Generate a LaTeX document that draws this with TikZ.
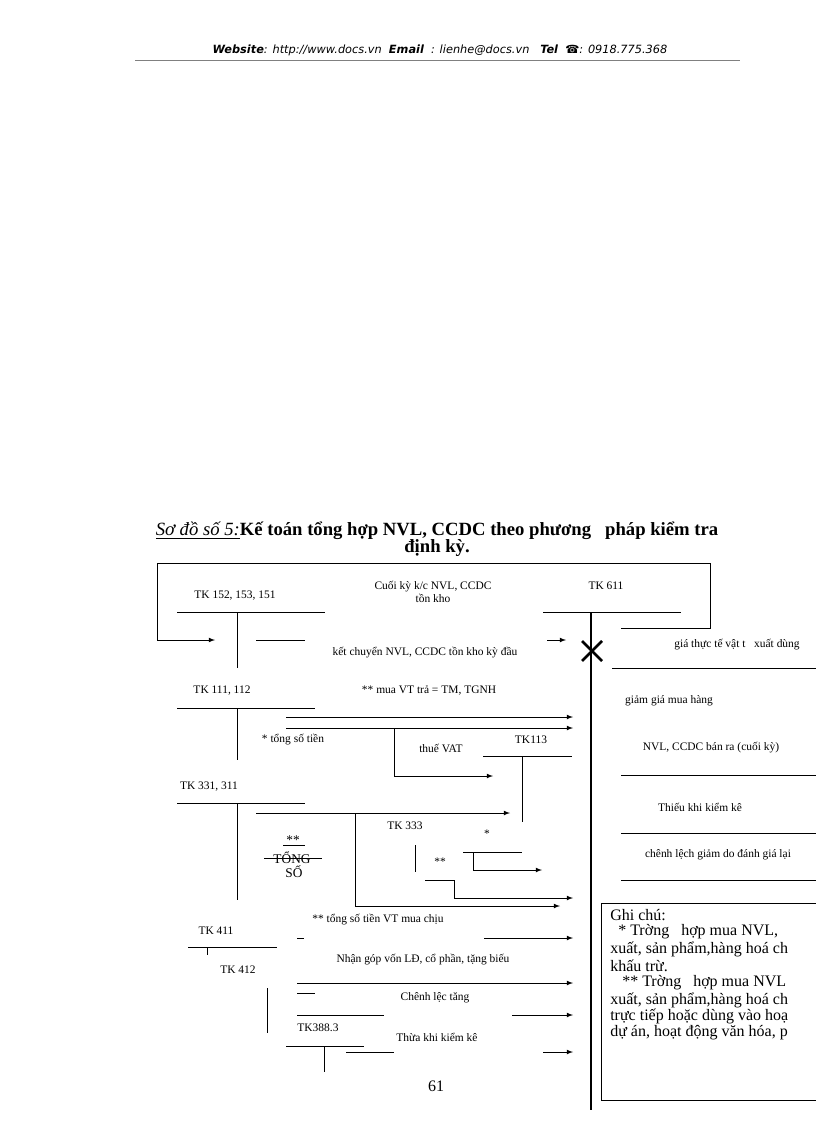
\documentclass[tikz,border=0pt]{standalone}
\usepackage{fontspec}
\setmainfont{Liberation Serif}
\newfontfamily\hdrfont{DejaVu Sans}
\begin{document}
\begin{tikzpicture}[x=0.75pt,y=-0.75pt,
  lbl/.style={font=\fontsize{8.6}{9.6}\selectfont,inner sep=0pt},
  note/.style={font=\fontsize{12}{13}\selectfont,inner sep=0pt,anchor=west},
  ln/.style={line width=0.6pt},
  arr/.style={line width=0.6pt,-latex}]
\useasboundingbox (0,0) rectangle (816,1123);
\clip (0,0) rectangle (816,1123);
% header
\node[font=\hdrfont\fontsize{8.5}{10}\selectfont\itshape,inner sep=0pt] (hdr) at (440,50) {\textbf{Website}: http://www.docs.vn \ \textbf{Email} \ : lienhe@docs.vn \ \ \textbf{Tel} \ ☎: 0918.775.368};
\draw[line width=0.4pt,gray] (135,60) -- (740,60);
% title
\node[font=\fontsize{14}{15}\selectfont\bfseries,inner sep=0pt] (t1) at (437,531) {\underline{\textit{\mdseries Sơ đồ số 5:}}Kế toán tổng hợp NVL, CCDC theo phương \ \ pháp kiểm tra};
\node[font=\fontsize{14}{15}\selectfont\bfseries,inner sep=0pt] (t2) at (437,548) {định kỳ.};
% loop
\draw[arr] (621,628) -- (710,628) -- (710,563) -- (157,563) -- (157,640) -- (215,640);
% TK 152
\node[lbl] (a152) at (235,596) {TK 152, 153, 151};
\draw[ln] (177,612) -- (325,612) (237,612) -- (237,668);
\draw[ln] (256,640) -- (305,640);
\node[lbl,align=center] (ck) at (433,592) {Cuối kỳ k/c NVL, CCDC\\tồn kho};
\node[lbl] (kc) at (425,653) {kết chuyển NVL, CCDC tồn kho kỳ đầu};
\draw[arr] (547,640) -- (566,640);
\draw[line width=2pt] (582,641) -- (602,661) (582,661) -- (602,641);
% TK 611
\node[lbl] (a611) at (606,586) {TK 611};
\draw[ln] (543,612) -- (681,612);
\draw[line width=2.2pt] (591,612) -- (591,1110);
\node[lbl] (r1) at (737,645) {giá thực tế vật t \ \ xuất dùng};
\draw[ln] (612,668) -- (816,668);
\node[lbl] (r2) at (669,701) {giảm giá mua hàng};
\node[lbl] (r3) at (711,748) {NVL, CCDC bán ra (cuối kỳ)};
\draw[ln] (621,775) -- (816,775);
\node[lbl] (r4) at (700,807) {Thiếu khi kiểm kê};
\draw[ln] (621,833) -- (816,833);
\node[lbl] (r5) at (718,855) {chênh lệch giảm do đánh giá lại};
\draw[ln] (621,880) -- (816,880);
% TK 111
\node[lbl] (a111) at (222,691) {TK 111, 112};
\draw[ln] (177,708) -- (315,708) (237,708) -- (237,760);
\node[lbl] (mua) at (429,691) {** mua VT trả = TM, TGNH};
\draw[arr] (286,717) -- (573,717);
\draw[arr] (286,728) -- (573,728);
\node[lbl] (tst) at (293,740) {* tổng số tiền};
\draw[arr] (394,728) -- (394,776) -- (493,776);
\node[lbl] (vat) at (441,748) {thuế VAT};
\node[lbl] (a113) at (531,740) {TK113};
\draw[ln] (483,756) -- (572,756) (522,756) -- (522,822);
% TK 331
\node[lbl] (a331) at (209,787) {TK 331, 311};
\draw[ln] (177,803) -- (305,803) (237,803) -- (237,900);
\draw[arr] (256,813) -- (510,813);
\draw[arr] (355,813) -- (355,906) -- (560,906);
\node[lbl] (a333) at (405,826) {TK 333};
\draw[ln] (415,845) -- (415,872);
\node[lbl] (s1) at (487,834) {*};
\node[lbl] (s2) at (440,862) {**};
\draw[ln] (463,852) -- (522,852);
\draw[arr] (473,852) -- (473,870) -- (542,870);
\draw[ln] (425,880) -- (454,880);
\draw[arr] (454,880) -- (454,898) -- (573,898);
\node[lbl,font=\fontsize{10}{11}\selectfont] (ss) at (293,840) {**};
\node[lbl,font=\fontsize{10}{11}\selectfont] (tong) at (292,858) {TỔNG};
\node[lbl,font=\fontsize{10}{11}\selectfont] (so) at (294,872) {SỐ};
\draw[ln] (283,845) -- (305,845) (264,858) -- (322,858);
% TK 411
\node[lbl] (vtm) at (378,920) {** tổng số tiền VT mua chịu};
\node[lbl] (a411) at (216,931) {TK 411};
\draw[ln] (188,947) -- (277,947) (207,947) -- (207,955);
\draw[ln] (297,938) -- (304,938);
\draw[arr] (484,938) -- (573,938);
\node[lbl] (a412) at (238,970) {TK 412};
\node[lbl] (ng) at (423,960) {Nhận góp vốn LĐ, cổ phần, tặng biếu};
\draw[arr] (297,983) -- (573,983);
\draw[ln] (297,993) -- (315,993);
\draw[ln] (267,988) -- (267,1033);
\node[lbl] (cl) at (435,998) {Chênh lệc tăng};
\draw[ln] (297,1015) -- (384,1015);
\draw[arr] (512,1015) -- (573,1015);
\node[lbl] (a388) at (318,1028) {TK388.3};
\draw[ln] (286,1046) -- (364,1046) (324,1046) -- (324,1072);
\draw[ln] (346,1052) -- (394,1052);
\draw[arr] (543,1052) -- (573,1052);
\node[lbl] (tk) at (437,1037) {Thừa khi kiểm kê};
\node[font=\fontsize{12}{13}\selectfont,inner sep=0pt] (pg) at (436,1086) {61};
% note box
\draw[ln] (601,903) rectangle (830,1100);
\node[note] (n0) at (610,915) {Ghi chú:};
\node[note] (n1) at (610,932) {\ \ * Trờng \ \ hợp mua NVL,};
\node[note] (n2) at (610,949) {xuất, sản phẩm,hàng hoá ch};
\node[note] (n3) at (610,966) {khấu trừ.};
\node[note] (n4) at (610,983) {\ \ \ ** Trờng \ \ hợp mua NVL};
\node[note] (n5) at (610,1000) {xuất, sản phẩm,hàng hoá ch};
\node[note] (n6) at (610,1016) {trực tiếp hoặc dùng vào hoạ};
\node[note] (n7) at (610,1033) {dự án, hoạt động văn hóa, p};
\end{tikzpicture}
\end{document}
